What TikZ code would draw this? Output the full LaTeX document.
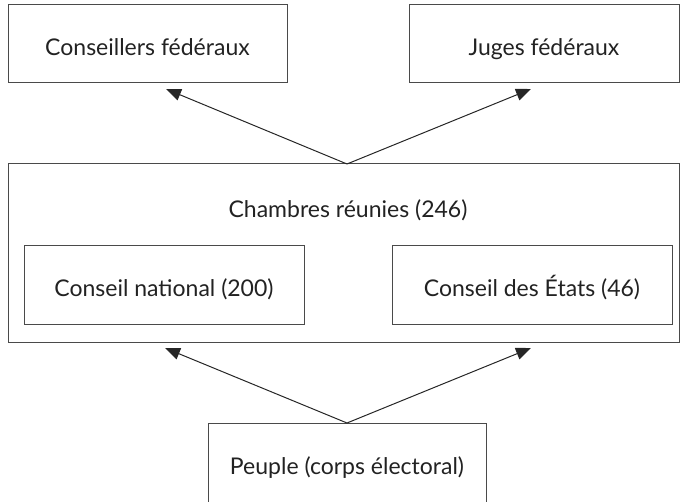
\documentclass[tikz,border=0pt]{standalone}
\usepackage{fontspec}
\setmainfont{Lato}
\usetikzlibrary{arrows.meta}
\definecolor{linec}{HTML}{4A4A4A}
\definecolor{textc}{HTML}{222222}
\tikzset{
  lbl/.style={text=textc, font=\fontsize{23}{26}\selectfont, text height=22.6pt, text depth=0pt},
  box/.style={draw=linec, line width=1pt, rectangle, inner sep=0pt, lbl},
  arr/.style={draw=black!85, line width=1pt, -{Triangle[length=15pt,width=12pt]}}
}
\begin{document}
\begin{tikzpicture}[x=1pt,y=-1pt]
\useasboundingbox (0,0) rectangle (680,502);
\begin{scope}
\clip (0,0) rectangle (680,502);
\node[box, minimum width=279pt, minimum height=78pt] (cf) at (147.5,44) {Conseillers fédéraux};
\node[box, minimum width=270pt, minimum height=78pt] (jf) at (544,44) {Juges fédéraux};
\node[box, minimum width=671pt, minimum height=179pt] (cr) at (343.5,253.5) {};
\node[lbl, inner sep=0pt] (crt) at (348,206) {Chambres réunies (246)};
\node[box, minimum width=280pt, minimum height=79pt] (cn) at (164,285.5) {Conseil national (200)};
\node[box, minimum width=280pt, minimum height=79pt] (ce) at (532,285.5) {Conseil des États (46)};
\node[box, minimum width=278pt, minimum height=80pt] (pe) at (347,463) {Peuple (corps électoral)};
\coordinate (topapex) at (347,164);
\coordinate (botapex) at (347,423);
\coordinate (t1) at (166,89);
\coordinate (t2) at (531,89);
\coordinate (b1) at (165,348);
\coordinate (b2) at (531,348);
\draw[arr] (topapex) -- (t1);
\draw[arr] (topapex) -- (t2);
\draw[arr] (botapex) -- (b1);
\draw[arr] (botapex) -- (b2);
\end{scope}
\end{tikzpicture}
\end{document}
